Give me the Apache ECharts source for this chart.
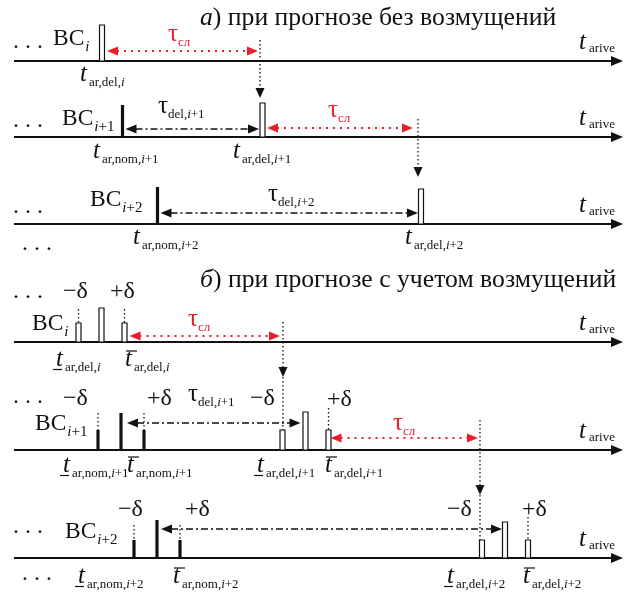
<!DOCTYPE html>
<html><head><meta charset="utf-8">
<script src="https://cdn.jsdelivr.net/npm/echarts@6/dist/echarts.min.js"></script>
<style>html,body{margin:0;padding:0;background:#fff}#c{width:625px;height:596px}</style>
</head><body><div id="c"></div>
<script>
// ---------------- data (event times along the t_arive axis) ----------------
const titleA = [['а', 1], [') при прогнозе без возмущений', 0]];
const titleB = [['б', 1], [') при прогнозе с учетом возмущений', 0]];
const craftSubs = ['i', 'i+1', 'i+2'];
// part а: prediction without disturbances
const aNomTimes = [null, 122.5, 157.5];   // t_ar,nom
const aDelTimes = [102, 262.5, 421];      // t_ar,del
const aSlackEnds = [260, 418];            // end of τсл interval
// part б: prediction with disturbances (±δ)
const bNomTimes = [null, 121, 157];
const bDelTimes = [101.5, 305.5, 505];
const bSlackEnds = [283, 480];
const delta = 23;
const timeAxisName = ['t', 'arive'];
const slackName = ['τ', 'сл'];

// ---------------- layout ----------------
const rowY = [61, 137, 224, 342, 450, 558];
const FAM = '"Liberation Serif","Times New Roman",serif';
const mctx = document.createElement('canvas').getContext('2d');
function fnt(s, it) { return (it ? 'italic ' : '') + s + 'px ' + FAM; }
function meas(t, s, it) { mctx.font = fnt(s, it); return mctx.measureText(t).width; }
function subParts(idx) { // 'i+1' -> [['i',1],['+1',0]]
  return idx.length > 1 ? [['i', 1], [idx.slice(1), 0]] : [['i', 1]];
}

function renderItem(params, api) {
  const els = [];
  const P = (x, y) => api.coord([x, y]);
  function seg(x1, y1, x2, y2, stroke, w, dash) {
    const a = P(x1, y1), b = P(x2, y2);
    els.push({ type: 'line', shape: { x1: a[0], y1: a[1], x2: b[0], y2: b[1] },
      style: { stroke: stroke, lineWidth: w, lineDash: dash || null } });
  }
  function head(tx, ty, dx, dy, len, half, fill) {
    const t = P(tx, ty);
    const bx = t[0] - dx * len, by = t[1] - dy * len, nx = -dy, ny = dx;
    els.push({ type: 'polygon', shape: { points: [[t[0], t[1]], [bx + nx * half, by + ny * half], [bx - nx * half, by - ny * half]] },
      style: { fill: fill } });
  }
  function txt(t, x, base, s, it, col) {
    const p = P(x, base);
    els.push({ type: 'text', x: p[0], y: p[1] - 0.34 * s,
      style: { text: t, font: fnt(s, it), fill: col || '#111', align: 'left', verticalAlign: 'middle',
        textAlign: 'left', textVerticalAlign: 'middle' } });
    return meas(t, s, it);
  }
  function run(parts, x, base, s, dy, col) { // parts [[text, italic]]
    let cx = x;
    parts.forEach(p => { cx += txt(p[0], cx, base + dy, s, p[1], col); });
    return cx;
  }
  // t with subscript
  function tLab(x, base, subs, mark) {
    const w = txt('t', x, base, 25, 1);
    run(subs, x + w + 2, base + 4, 13, 0);
    if (mark === 'under') seg(x - 3, base + 1.5, x + 6, base + 1.5, '#111', 1.2);
    if (mark === 'over') seg(x + 1, base - 17, x + 12, base - 17, '#111', 1.2);
  }
  function tauLab(x, base, subs, col) {
    const w = txt('τ', x, base, 25, 0, col);
    run(subs, x + w, base + 4, 13, 0, col);
  }
  function bc(x, base, idx) {
    const w = txt('BC', x, base, 23.5, 0);
    run(subParts(idx), x + w + 1, base + 5, 15, 0);
  }
  function dots(x, base) { txt('. . .', x, base, 24, 0); }
  function delt(sign, x, base) { txt(sign + 'δ', x, base, 24, 0); }
  // bars
  function bar(t, row, h, solid) {
    const y0 = rowY[row];
    const a = P(t - (solid ? 1.6 : 2.5), y0 - h), b = P(t + (solid ? 1.6 : 2.5), y0);
    els.push({ type: 'rect', shape: { x: a[0], y: a[1], width: b[0] - a[0], height: b[1] - a[1] },
      style: solid ? { fill: '#111' } : { fill: '#fff', stroke: '#111', lineWidth: 1.2 } });
  }
  function dbl(xl, xr, y, col, dash, w) {
    seg(xl + 10, y, xr - 10, y, col, w, dash);
    head(xl, y, -1, 0, 11, 4.5, col);
    head(xr, y, 1, 0, 11, 4.5, col);
  }
  function drop(x, y1, tip, y2) {
    seg(x, y1, x, tip - 9, '#111', 1.3, [1.5, 2.5]);
    head(x, tip, 0, 1, 10, 4.5, '#111');
    if (y2) seg(x, tip, x, y2, '#111', 1.3, [1.5, 2.5]);
  }
  const RED = '#e8202a', DD = [7, 3, 2, 3], DOT = [2, 5];

  // titles
  run(titleA, 200, 27, 25.7, 0);
  run(titleB, 200, 289, 25.7, 0);

  // time axes
  rowY.forEach(y => {
    seg(14, y, 614, y, '#111', 2.2);
    head(623, y, 1, 0, 12, 5, '#111');
    const w = txt(timeAxisName[0], 579, y - 10, 25, 1);
    txt(timeAxisName[1], 579 + w + 3, y - 8, 13, 0);
  });

  // ---------- part а ----------
  dots(13, 49.5); dots(13, 129); dots(13, 215); dots(22, 252);
  bc(53, 47, craftSubs[0]); bc(62, 127, craftSubs[1]); bc(90, 208, craftSubs[2]);
  bar(aDelTimes[0], 0, 36, false);
  bar(aNomTimes[1], 1, 32, true); bar(aDelTimes[1], 1, 34, false);
  bar(aNomTimes[2], 2, 37, true); bar(aDelTimes[2], 2, 35, false);
  dbl(aDelTimes[0] + 5, aSlackEnds[0] - 2, rowY[0] - 10, RED, DOT, 2);
  dbl(aNomTimes[1] + 3, aDelTimes[1] - 3.5, rowY[1] - 8, '#111', DD, 1.3);
  dbl(aDelTimes[1] + 4.5, aSlackEnds[1] - 5, rowY[1] - 9, RED, DOT, 2);
  dbl(aNomTimes[2] + 3, aDelTimes[2] - 3, rowY[2] - 11, '#111', DD, 1.3);
  drop(aSlackEnds[0], rowY[0] - 21, rowY[1] - 39);
  drop(aSlackEnds[1], rowY[1] - 18, rowY[2] - 47);
  tauLab(168, 43, [[slackName[1], 0]], RED);
  tauLab(328, 119, [[slackName[1], 0]], RED);
  tauLab(158, 115, [['del,', 0]].concat(subParts(craftSubs[1])));
  tauLab(268, 203, [['del,', 0]].concat(subParts(craftSubs[2])));
  tLab(80, 83, [['ar,del,', 0]].concat(subParts(craftSubs[0])));
  tLab(93, 160, [['ar,nom,', 0]].concat(subParts(craftSubs[1])));
  tLab(233, 160, [['ar,del,', 0]].concat(subParts(craftSubs[1])));
  tLab(133, 246, [['ar,nom,', 0]].concat(subParts(craftSubs[2])));
  tLab(405, 246, [['ar,del,', 0]].concat(subParts(craftSubs[2])));

  // ---------- part б ----------
  dots(13, 300); dots(13, 405); dots(13, 535); dots(22, 582);
  bc(32, 332, craftSubs[0]); bc(35, 432, craftSubs[1]); bc(65, 540, craftSubs[2]);
  const SH = 19, TKH = 17;
  // row 3 (BC_i)
  bar(bDelTimes[0] - delta, 3, SH, false); bar(bDelTimes[0], 3, 34, false); bar(bDelTimes[0] + delta, 3, SH, false);
  seg(bDelTimes[0] - delta, rowY[3] - SH - 14, bDelTimes[0] - delta, rowY[3] - SH, '#111', 1.3, [1.5, 2.5]);
  seg(bDelTimes[0] + delta, rowY[3] - SH - 14, bDelTimes[0] + delta, rowY[3] - SH, '#111', 1.3, [1.5, 2.5]);
  // row 4 (BC_i+1)
  bar(bNomTimes[1] - delta, 4, 20, true); bar(bNomTimes[1], 4, 37, true); bar(bNomTimes[1] + delta, 4, 20, true);
  bar(bDelTimes[1] - delta, 4, 20, false); bar(bDelTimes[1], 4, 38, false); bar(bDelTimes[1] + delta, 4, 20, false);
  seg(bNomTimes[1] - delta, rowY[4] - 20 - TKH, bNomTimes[1] - delta, rowY[4] - 20, '#111', 1.3, [1.5, 2.5]);
  seg(bNomTimes[1] + delta, rowY[4] - 20 - TKH, bNomTimes[1] + delta, rowY[4] - 20, '#111', 1.3, [1.5, 2.5]);
  seg(bDelTimes[1] + delta, rowY[4] - 20 - 22, bDelTimes[1] + delta, rowY[4] - 20, '#111', 1.3, [1.5, 2.5]);
  // row 5 (BC_i+2)
  bar(bNomTimes[2] - delta, 5, 18, true); bar(bNomTimes[2], 5, 38, true); bar(bNomTimes[2] + delta, 5, 18, true);
  bar(bDelTimes[2] - delta, 5, 18, false); bar(bDelTimes[2], 5, 36, false); bar(bDelTimes[2] + delta, 5, 18, false);
  seg(bNomTimes[2] - delta, rowY[5] - 18 - 15, bNomTimes[2] - delta, rowY[5] - 18, '#111', 1.3, [1.5, 2.5]);
  seg(bNomTimes[2] + delta, rowY[5] - 18 - 15, bNomTimes[2] + delta, rowY[5] - 18, '#111', 1.3, [1.5, 2.5]);
  seg(bDelTimes[2] + delta, rowY[5] - 18 - 23, bDelTimes[2] + delta, rowY[5] - 18, '#111', 1.3, [1.5, 2.5]);
  // arrows
  dbl(bDelTimes[0] + delta + 5, bSlackEnds[0] - 3, rowY[3] - 6, RED, DOT, 2);
  dbl(bNomTimes[1] + 6, bDelTimes[1] - 5, rowY[4] - 27, '#111', DD, 1.3);
  dbl(bDelTimes[1] + delta + 2, bSlackEnds[1] - 2, rowY[4] - 12, RED, DOT, 2);
  dbl(bNomTimes[2] + 4, bDelTimes[2] - 3, rowY[5] - 29, '#111', DD, 1.3);
  drop(bSlackEnds[0], rowY[3] - 20, rowY[3] + 35, rowY[4] - 20);
  drop(bSlackEnds[1], rowY[4] - 30, rowY[4] + 45, rowY[5] - 18);
  // δ labels
  delt('−', 63, 300); delt('+', 110, 300);
  delt('−', 63, 407); delt('+', 147, 407); delt('−', 250, 407); delt('+', 327, 408);
  delt('−', 118, 518); delt('+', 185, 518); delt('−', 447, 518); delt('+', 522, 518);
  // τ labels
  tauLab(188, 328, [[slackName[1], 0]], RED);
  tauLab(188, 403, [['del,', 0]].concat(subParts(craftSubs[1])));
  tauLab(393, 432, [[slackName[1], 0]], RED);
  // bound labels
  tLab(56, 368, [['ar,del,', 0]].concat(subParts(craftSubs[0])), 'under');
  tLab(125, 368, [['ar,del,', 0]].concat(subParts(craftSubs[0])), 'over');
  tLab(63, 474, [['ar,nom,', 0]].concat(subParts(craftSubs[1])), 'under');
  tLab(127, 474, [['ar,nom,', 0]].concat(subParts(craftSubs[1])), 'over');
  tLab(257, 474, [['ar,del,', 0]].concat(subParts(craftSubs[1])), 'under');
  tLab(325, 474, [['ar,del,', 0]].concat(subParts(craftSubs[1])), 'over');
  tLab(78, 585, [['ar,nom,', 0]].concat(subParts(craftSubs[2])), 'under');
  tLab(173, 585, [['ar,nom,', 0]].concat(subParts(craftSubs[2])), 'over');
  tLab(447, 585, [['ar,del,', 0]].concat(subParts(craftSubs[2])), 'under');
  tLab(523, 585, [['ar,del,', 0]].concat(subParts(craftSubs[2])), 'over');

  return { type: 'group', children: els };
}

const chart = echarts.init(document.getElementById('c'), null, { renderer: 'canvas' });
chart.setOption({
  animation: false,
  backgroundColor: '#fff',
  grid: { left: 0, right: 0, top: 0, bottom: 0 },
  xAxis: { type: 'value', min: 0, max: 625, show: false },
  yAxis: { type: 'value', min: 0, max: 596, inverse: true, show: false },
  series: [{ type: 'custom', coordinateSystem: 'cartesian2d', clip: false, silent: true,
    data: [[0, 0]], renderItem: renderItem }]
});
</script>
</body></html>
